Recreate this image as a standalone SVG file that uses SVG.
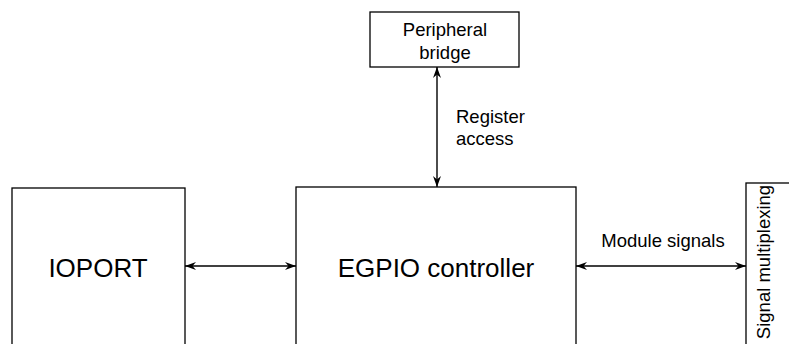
<svg xmlns="http://www.w3.org/2000/svg" width="789" height="344" viewBox="0 0 789 344">
<style>
.box{fill:#fff;stroke:#000;stroke-width:1.3}
.ln{stroke:#000;stroke-width:1.4;fill:none}
.s{font-family:"Liberation Sans",Arial,sans-serif;font-size:18.5px;fill:#000}
.b{font-family:"Liberation Sans",Arial,sans-serif;font-size:26px;fill:#000}
</style>
<defs>
<marker id="ah" viewBox="0 0 11 10" refX="11" refY="5" markerWidth="11" markerHeight="10" markerUnits="userSpaceOnUse" orient="auto-start-reverse">
<path d="M0,1 L11,5 L0,9 L3.5,5 Z" fill="#000"/>
</marker>
</defs>
<g id="peripheral-bridge">
<rect class="box" x="370" y="12" width="149" height="55"/>
<text class="s" x="445" y="36" text-anchor="middle">Peripheral</text>
<text class="s" x="445" y="59" text-anchor="middle">bridge</text>
</g>
<g id="ioport">
<rect class="box" x="12" y="188" width="173" height="170"/>
<text class="b" x="98" y="277" text-anchor="middle">IOPORT</text>
</g>
<g id="egpio">
<rect class="box" x="296" y="187" width="280" height="172"/>
<text class="b" x="436" y="277" text-anchor="middle">EGPIO controller</text>
</g>
<g id="signal-mux">
<rect class="box" x="746" y="183" width="60" height="175"/>
<text class="s" transform="translate(770,262) rotate(-90)" text-anchor="middle">Signal multiplexing</text>
</g>
<g id="connectors">
<line class="ln" x1="437" y1="67" x2="437" y2="187" marker-start="url(#ah)" marker-end="url(#ah)"/>
<line class="ln" x1="185" y1="266" x2="296" y2="266" marker-start="url(#ah)" marker-end="url(#ah)"/>
<line class="ln" x1="576" y1="266" x2="746" y2="266" marker-start="url(#ah)" marker-end="url(#ah)"/>
<text class="s" x="456" y="123">Register</text>
<text class="s" x="456" y="145">access</text>
<text class="s" x="663" y="247" text-anchor="middle">Module signals</text>
</g>
</svg>
